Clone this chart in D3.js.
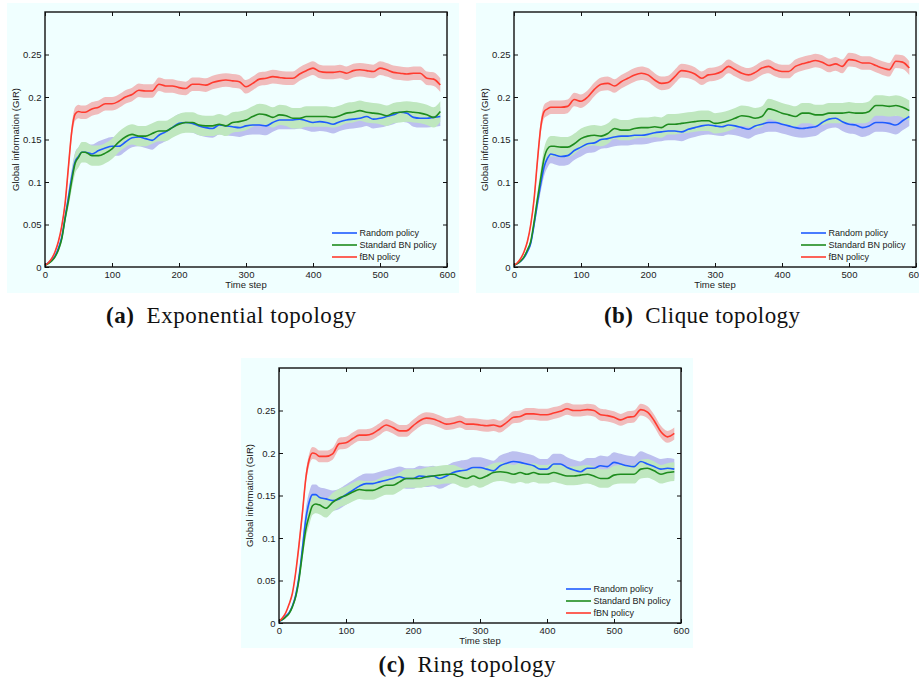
<!DOCTYPE html>
<html><head><meta charset="utf-8">
<script src="https://cdn.jsdelivr.net/npm/d3@7"></script>
<style>
html,body{margin:0;padding:0;background:#fff;}
svg{display:block;}
</style></head>
<body>
<script>
// ---------- DATA ----------
const timeSteps = [0,5,10,15,20,25,30,35,40,45,50,55,60,
  70,80,90,100,110,120,130,140,150,160,170,180,190,200,210,220,230,240,250,260,
  270,280,290,300,310,320,330,340,350,360,370,380,390,400,410,420,430,440,450,460,
  470,480,490,500,510,520,530,540,550,560,570,580,590];

const seriesNames = ["Random policy","Standard BN policy","fBN policy"];
const xTicks = [0,100,200,300,400,500,600];
const yTicks = [0,0.05,0.1,0.15,0.2,0.25];
const captions = ["Exponential topology","Clique topology","Ring topology"];
const captionTags = ["(a)","(b)","(c)"];

// (a) Exponential topology
const expRandom = [0.002,0.005,0.008,0.013,0.022,0.035,0.058,0.082,0.106,0.124,0.130,0.135,0.135,
  0.133,0.137,0.140,0.142,0.142,0.147,0.152,0.153,0.151,0.149,0.155,0.159,0.164,0.169,0.170,0.169,0.166,0.164,0.163,0.167,
  0.166,0.165,0.164,0.166,0.167,0.167,0.166,0.170,0.173,0.173,0.173,0.174,0.172,0.170,0.171,0.170,0.168,0.171,0.173,0.174,
  0.175,0.177,0.174,0.175,0.177,0.179,0.182,0.181,0.176,0.175,0.175,0.176,0.177];
const expStandard = [0.002,0.004,0.007,0.012,0.020,0.033,0.057,0.078,0.102,0.122,0.129,0.135,0.135,
  0.131,0.131,0.134,0.139,0.147,0.153,0.156,0.154,0.154,0.157,0.160,0.160,0.164,0.168,0.170,0.170,0.167,0.166,0.166,0.168,
  0.166,0.170,0.171,0.173,0.177,0.180,0.179,0.176,0.179,0.178,0.175,0.175,0.177,0.177,0.177,0.177,0.176,0.178,0.181,0.182,
  0.184,0.182,0.181,0.180,0.178,0.181,0.182,0.183,0.182,0.181,0.179,0.176,0.183];
const expFbn = [0.002,0.005,0.010,0.018,0.030,0.048,0.075,0.118,0.160,0.180,0.183,0.182,0.182,
  0.186,0.188,0.192,0.192,0.195,0.200,0.203,0.208,0.207,0.207,0.215,0.213,0.213,0.211,0.210,0.215,0.215,0.214,0.217,0.219,
  0.220,0.219,0.218,0.212,0.216,0.221,0.222,0.224,0.223,0.222,0.222,0.227,0.231,0.234,0.230,0.229,0.229,0.230,0.228,0.231,
  0.232,0.231,0.230,0.234,0.232,0.229,0.228,0.227,0.228,0.228,0.222,0.221,0.214];

// (b) Clique topology
const cliqueRandom = [0.002,0.004,0.007,0.011,0.018,0.028,0.050,0.075,0.098,0.118,0.128,0.133,0.132,
  0.130,0.131,0.137,0.141,0.145,0.146,0.150,0.151,0.153,0.154,0.154,0.155,0.155,0.156,0.158,0.159,0.160,0.160,0.159,0.162,
  0.164,0.166,0.167,0.166,0.165,0.167,0.166,0.164,0.162,0.166,0.168,0.170,0.170,0.168,0.166,0.164,0.163,0.164,0.165,0.170,
  0.174,0.175,0.171,0.168,0.167,0.164,0.166,0.170,0.170,0.169,0.167,0.172,0.177];
const cliqueStandard = [0.002,0.004,0.007,0.012,0.020,0.030,0.053,0.080,0.105,0.128,0.139,0.142,0.142,
  0.141,0.141,0.145,0.151,0.154,0.155,0.154,0.157,0.163,0.161,0.161,0.163,0.164,0.164,0.165,0.164,0.168,0.168,0.169,0.170,
  0.171,0.172,0.172,0.169,0.170,0.172,0.175,0.178,0.177,0.175,0.177,0.186,0.184,0.181,0.179,0.177,0.181,0.181,0.179,0.179,
  0.181,0.181,0.181,0.182,0.181,0.181,0.183,0.190,0.190,0.189,0.190,0.188,0.184];
const cliqueFbn = [0.002,0.005,0.010,0.018,0.030,0.050,0.080,0.125,0.165,0.183,0.186,0.188,0.188,
  0.188,0.189,0.197,0.195,0.200,0.209,0.215,0.216,0.213,0.218,0.222,0.226,0.228,0.226,0.220,0.216,0.217,0.224,0.231,0.230,
  0.227,0.222,0.226,0.227,0.230,0.236,0.232,0.228,0.226,0.229,0.234,0.236,0.232,0.230,0.230,0.236,0.239,0.241,0.243,0.241,
  0.237,0.239,0.236,0.244,0.243,0.240,0.240,0.237,0.234,0.232,0.242,0.241,0.234];

// (c) Ring topology
const ringRandom = [0.002,0.004,0.008,0.012,0.020,0.033,0.055,0.088,0.122,0.142,0.151,0.151,0.148,
  0.146,0.144,0.146,0.151,0.156,0.161,0.164,0.164,0.166,0.168,0.170,0.172,0.170,0.170,0.173,0.172,0.173,0.170,0.173,0.177,
  0.179,0.180,0.183,0.183,0.181,0.179,0.185,0.188,0.190,0.189,0.187,0.185,0.181,0.181,0.187,0.187,0.183,0.180,0.178,0.182,
  0.182,0.185,0.184,0.189,0.187,0.185,0.184,0.190,0.187,0.184,0.181,0.182,0.181];
const ringStandard = [0.002,0.004,0.007,0.011,0.019,0.031,0.052,0.082,0.110,0.126,0.138,0.140,0.139,
  0.135,0.142,0.147,0.150,0.154,0.157,0.156,0.156,0.159,0.162,0.162,0.166,0.170,0.170,0.170,0.172,0.173,0.174,0.175,0.175,
  0.172,0.170,0.173,0.170,0.173,0.177,0.178,0.177,0.175,0.177,0.175,0.177,0.175,0.175,0.177,0.175,0.173,0.173,0.174,0.175,
  0.173,0.170,0.170,0.174,0.175,0.175,0.175,0.181,0.182,0.179,0.175,0.177,0.178];
const ringFbn = [0.002,0.006,0.012,0.022,0.035,0.060,0.093,0.130,0.170,0.192,0.200,0.199,0.196,
  0.196,0.199,0.211,0.212,0.217,0.221,0.221,0.223,0.228,0.233,0.230,0.226,0.226,0.232,0.238,0.241,0.240,0.237,0.234,0.235,
  0.237,0.234,0.234,0.233,0.232,0.233,0.231,0.236,0.242,0.243,0.246,0.246,0.245,0.245,0.247,0.249,0.252,0.250,0.250,0.251,
  0.250,0.245,0.244,0.242,0.239,0.242,0.243,0.251,0.248,0.238,0.225,0.219,0.223];

// band half-widths (confidence spread) per series: random, standard, fBN
const expSpread = [0.011,0.012,0.008];
const cliqueSpread = [0.011,0.012,0.008];
const ringSpread = [0.012,0.011,0.007];

// ---------- STYLE ----------
const lineColors = ["#1f5cff","#1e8c1e","#ff3b2f"];
const bandColors = ["#bcc0ef","#bfe7bf","#f0bcbc"];
const panelBg = "#f0ffff";

const W = 919, H = 684;
const svg = d3.select("body").append("svg").attr("width",W).attr("height",H);
svg.append("rect").attr("width",W).attr("height",H).attr("fill","#fff");

const panels = [
  {bg:[7,3,452,290], left:45, top:12, data:[expRandom,expStandard,expFbn], spread:expSpread, cap:{x:231,y:323,w:250}},
  {bg:[476,3,460,290], left:514, top:12, data:[cliqueRandom,cliqueStandard,cliqueFbn], spread:cliqueSpread, cap:{x:702,y:323,w:196}},
  {bg:[241,358,452,290], left:279, top:368, data:[ringRandom,ringStandard,ringFbn], spread:ringSpread, cap:{x:467,y:672,w:177}}
];
const pw = 402, ph = 255;
const font = "'Liberation Sans', Arial, Helvetica, sans-serif";

panels.forEach((p,pi) => {
  svg.append("rect").attr("x",p.bg[0]).attr("y",p.bg[1]).attr("width",p.bg[2]).attr("height",p.bg[3]).attr("fill",panelBg);
  const g = svg.append("g").attr("transform",`translate(${p.left},${p.top})`);
  const x = d3.scaleLinear().domain([0,600]).range([0,pw]);
  const y = d3.scaleLinear().domain([0,0.3]).range([ph,0]);

  // bands
  [0,1,2].forEach(si => {
    const vals = p.data[si];
    const pts = timeSteps.map((t,i)=>({t, v:vals[i], s:p.spread[si]*Math.min(1, vals[i]/0.12)}));
    const area = d3.area().curve(d3.curveMonotoneX)
      .x(d=>x(d.t)).y0(d=>y(Math.max(0,d.v-d.s))).y1(d=>y(d.v+d.s));
    g.append("path").datum(pts).attr("d",area).attr("fill",bandColors[si]).attr("stroke","none");
  });
  // lines
  [0,1,2].forEach(si => {
    const vals = p.data[si];
    const pts = timeSteps.map((t,i)=>({t, v:vals[i]}));
    const line = d3.line().curve(d3.curveMonotoneX).x(d=>x(d.t)).y(d=>y(d.v));
    g.append("path").datum(pts).attr("d",line).attr("fill","none")
      .attr("stroke",lineColors[si]).attr("stroke-width",1.6).attr("stroke-linejoin","round");
  });

  const yFmt = d => d===0 ? "0" : String(+d.toFixed(2));
  const styleAxis = sel => {
    sel.select(".domain").remove();
    sel.selectAll(".tick line").attr("stroke","#111").attr("stroke-width",1);
    sel.selectAll("text").attr("fill","#222").style("font-family",font).style("font-size","9.5px");
  };
  g.append("g").attr("transform",`translate(0,${ph})`)
    .call(d3.axisBottom(x).tickValues(xTicks).tickFormat(d3.format("d")).tickSizeInner(-4).tickSizeOuter(0).tickPadding(4))
    .call(styleAxis);
  g.append("g")
    .call(d3.axisLeft(y).tickValues(yTicks).tickFormat(yFmt).tickSizeInner(-4).tickSizeOuter(0).tickPadding(3.5))
    .call(styleAxis);
  g.append("g")
    .call(d3.axisTop(x).tickValues(xTicks).tickFormat("").tickSizeInner(-4).tickSizeOuter(0))
    .call(styleAxis);
  g.append("g").attr("transform",`translate(${pw},0)`)
    .call(d3.axisRight(y).tickValues(yTicks).tickFormat("").tickSizeInner(-4).tickSizeOuter(0))
    .call(styleAxis);
  g.append("rect").attr("width",pw).attr("height",ph).attr("fill","none").attr("stroke","#111").attr("stroke-width",1.4);

  // axis titles
  g.append("text").attr("x",pw/2).attr("y",ph+21).attr("text-anchor","middle")
    .style("font-family",font).style("font-size","9.5px").attr("fill","#222").text("Time step");
  g.append("text").attr("transform",`translate(-26,${ph/2}) rotate(-90)`).attr("text-anchor","middle")
    .style("font-family",font).style("font-size","9.5px").attr("fill","#222").text("Global information (GIR)");

  // legend
  const lg = g.append("g").attr("transform",`translate(${pw-115},${ph-34})`);
  seriesNames.forEach((n,i)=>{
    lg.append("line").attr("x1",0).attr("x2",25).attr("y1",i*12).attr("y2",i*12)
      .attr("stroke",lineColors[i]).attr("stroke-width",1.6);
    lg.append("text").attr("x",27.5).attr("y",i*12).attr("dy","0.35em")
      .style("font-family",font).style("font-size","9px").attr("fill","#222").text(n);
  });

  // caption
  const cap = svg.append("text").attr("x",p.cap.x).attr("y",p.cap.y).attr("text-anchor","middle")
    .attr("textLength",p.cap.w).attr("lengthAdjust","spacing")
    .style("font-family","'Liberation Serif','Times New Roman',serif").style("font-size","23px").attr("fill","#111");
  cap.append("tspan").attr("font-weight","bold").text(captionTags[pi]);
  cap.append("tspan").text("\u2002" + captions[pi]);
});
</script>
</body></html>
